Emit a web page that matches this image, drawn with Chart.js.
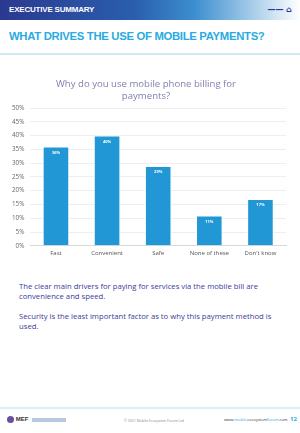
<!DOCTYPE html>
<html>
<head>
<meta charset="utf-8">
<script src="https://cdn.jsdelivr.net/npm/chart.js@4"></script>
<style>
  body { margin: 0; width: 300px; height: 433px; position: relative; overflow: hidden; background: #fff; font-family: "Open Sans", sans-serif; }
  .top { position: absolute; left: 0; top: 0; width: 300px; height: 20px;
         background: linear-gradient(to right, #2b3990 0%, #2a5fae 45%, #3d8fcf 65%, #ffffff 100%); }
  .top span { position: absolute; left: 9px; top: 5px; color: #fff; font: bold 8px "Liberation Sans", sans-serif; letter-spacing: -0.2px; }
  .top i { position: absolute; right: 8px; top: 5px; color: #2b3990; font: bold 8px "DejaVu Sans", sans-serif; font-style: normal; }
  .head { position: absolute; left: 9px; top: 30px; color: #29abe2; font: bold 11.3px "Liberation Sans", sans-serif; letter-spacing: -0.3px; white-space: nowrap; }
  .rule { position: absolute; left: 0; top: 53px; width: 300px; height: 2px; background: #d3e6f3; }
  #wrap { position: absolute; left: 0; top: 73px; width: 300px; height: 188px; }
  .txt { position: absolute; left: 19px; width: 258px; color: #3b3b9a; font: 7.7px "Open Sans", sans-serif; line-height: 9.5px; }
  .foot { position: absolute; left: 0; top: 407px; width: 300px; height: 2px; background: #d9effb; }
  .f1 { position: absolute; left: 7px; top: 416px; font: bold 6px "Liberation Sans", sans-serif; color: #333; }
  .f1 b { display: inline-block; width: 7px; height: 7px; border-radius: 50%; background: #6a4fa0; vertical-align: middle; }
  .f1 em { display: inline-block; width: 34px; height: 4px; background: #b8c9dd; vertical-align: middle; margin-left: 2px; }
  .f2 { position: absolute; left: 124px; top: 418px; font: 3.5px "Open Sans", sans-serif; color: #888; }
  .f3 { position: absolute; left: 224px; top: 417px; font: 4px "Open Sans", sans-serif; color: #333; }
  .f3 u { text-decoration: none; color: #29abe2; }
  .f4 { position: absolute; left: 290px; top: 415px; font: bold 6px "Open Sans", sans-serif; color: #29abe2; }
</style>
</head>
<body>
<div class="top"><span>EXECUTIVE SUMMARY</span><i>&mdash;&mdash; &#8962;</i></div>
<div class="head">WHAT DRIVES THE USE OF MOBILE PAYMENTS?</div>
<div class="rule"></div>
<div id="wrap"><canvas id="myChart"></canvas></div>
<div class="txt" style="top:282px">The clear main drivers for paying for services via the mobile bill are convenience and speed.</div>
<div class="txt" style="top:312px">Security is the least important factor as to why this payment method is used.</div>
<div class="foot"></div>
<div class="f1"><b></b> MEF <em></em></div>
<div class="f2">© 2021 Mobile Ecosystem Forum Ltd</div>
<div class="f3">www.<u>mobile</u>ecosystem<u>forum</u>.com</div>
<div class="f4">12</div>
<script>
// Reasons for using mobile phone billing

var reasons = ['Fast', 'Convenient', 'Safe', 'None of these', "Don't know"];

var share = [36, 40, 29, 11, 17];

var yTicks = ['0%', '5%', '10%', '15%', '20%', '25%', '30%', '35%', '40%', '45%', '50%'];

// little white labels at the top of each bar
var barLabels = {
  id: 'barLabels',
  afterDatasetsDraw: function(chart) {
    var ctx = chart.ctx;
    var meta = chart.getDatasetMeta(0);
    ctx.save();
    ctx.fillStyle = '#ffffff';
    ctx.font = 'bold 4px "Open Sans"';
    ctx.textAlign = 'center';
    ctx.textBaseline = 'top';
    meta.data.forEach(function(bar, i) {
      ctx.fillText(share[i] + '%', bar.x, bar.y + 4);
    });
    ctx.restore();
  }
};

var ctx = document.getElementById("myChart");
var myChart = new Chart(ctx, {
  type: 'bar',
  data: {
    labels: reasons,
    datasets: [
      {
        data: share,
        backgroundColor: "#2197d6",
        borderColor: "#ffffff",
        borderWidth: 1,
        barPercentage: 0.52,
        categoryPercentage: 1.0
      }
    ]
  },
  options: {
    responsive: true,
    maintainAspectRatio: false,
    animation: false,
    layout: { padding: { left: 6, right: 14, top: 6, bottom: 0 } },
    plugins: {
      legend: { display: false },
      tooltip: { enabled: false },
      title: {
        display: true,
        text: ['Why do you use mobile phone billing for', 'payments?'],
        color: '#8080b0',
        font: { family: 'Open Sans', size: 9.6, weight: 'normal' },
        padding: { top: 0, bottom: 6 },
        lineHeight: 1.25
      }
    },
    scales: {
      x: {
        grid: { display: false, drawTicks: false },
        border: { color: '#d8d8d8' },
        ticks: { color: '#555', font: { family: 'Open Sans', size: 6 }, padding: 4 }
      },
      y: {
        min: 0,
        max: 50,
        ticks: {
          stepSize: 5,
          color: '#666',
          font: { family: 'Open Sans', size: 6.3 },
          padding: 6,
          callback: function(v, i) { return yTicks[i]; }
        },
        grid: { color: '#eeeeee', drawTicks: false },
        border: { display: false }
      }
    }
  },
  plugins: [barLabels]
});
</script>
</body>
</html>
